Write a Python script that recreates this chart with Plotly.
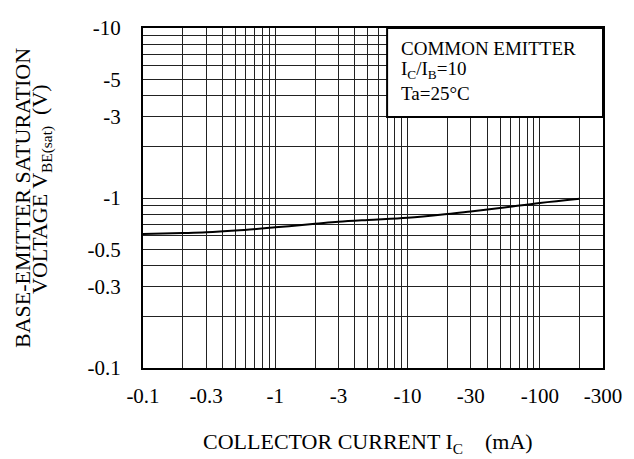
import plotly.graph_objects as go

# Data (absolute values; axis labels show negative signs)
ic_ma = [0.1, 0.2, 0.3, 0.5, 1, 2, 3, 5, 10, 20, 30, 50, 100, 200]
vbe_sat = [0.615, 0.622, 0.628, 0.643, 0.672, 0.705, 0.725, 0.743, 0.765, 0.805, 0.834, 0.873, 0.935, 0.99]

x_tickvals = [0.1, 0.3, 1, 3, 10, 30, 100, 300]
x_ticktext = ["-0.1", "-0.3", "-1", "-3", "-10", "-30", "-100", "-300"]
y_tickvals = [0.1, 0.3, 0.5, 1, 3, 5, 10]
y_ticktext = ["-0.1", "-0.3", "-0.5", "-1", "-3", "-5", "-10"]

x_grid = [m * 10 ** e for e in (-1, 0, 1, 2) for m in range(1, 10)] + [300]
y_grid = [m * 10 ** e for e in (-1, 0) for m in range(1, 10)] + [10]

W, H = 634, 459
L, R, T, B = 143, 31, 28, 91
PW, PH = W - L - R, H - T - B


def px(xp):
    return (xp - L) / PW


def py(yp):
    return (H - B - yp) / PH


FONT = "Liberation Serif"

fig = go.Figure()
fig.add_trace(go.Scatter(x=ic_ma, y=vbe_sat, mode="lines",
                         line=dict(color="black", width=2, shape="spline"),
                         showlegend=False, hoverinfo="skip"))

grid_style = dict(showgrid=True, gridcolor="#222", gridwidth=1)

fig.update_layout(
    width=W, height=H,
    margin=dict(l=L, r=R, t=T, b=B),
    paper_bgcolor="white", plot_bgcolor="white",
    font=dict(family=FONT, size=21, color="black"),
    xaxis=dict(type="log", range=[-1, 2.4771], tickvals=x_tickvals, ticktext=x_ticktext,
               showgrid=False, showline=True, mirror=True, linecolor="black", linewidth=2,
               ticks="", ticklabelstandoff=8, zeroline=False,
               minor=dict(tickvals=x_grid, **grid_style)),
    yaxis=dict(type="log", range=[-1, 1], tickvals=y_tickvals, ticktext=y_ticktext,
               showgrid=False, showline=True, mirror=True, linecolor="black", linewidth=2,
               ticks="", ticklabelstandoff=16, zeroline=False,
               minor=dict(tickvals=y_grid, **grid_style)),
)

# Condition box (white, covering the grid)
fig.add_shape(type="rect", xref="x", yref="y", x0=7, x1=300, y0=3, y1=10,
              fillcolor="white", line=dict(color="black", width=2), layer="above")

box_lines = ["COMMON EMITTER", "I<sub>C</sub>/I<sub>B</sub>=10", "Ta=25°C"]
box_y = [48, 70, 93]
for txt, yy in zip(box_lines, box_y):
    fig.add_annotation(text=txt, xref="paper", yref="paper", x=px(399), y=py(yy),
                       xanchor="left", yanchor="middle", showarrow=False,
                       font=dict(family=FONT, size=19, color="black"))

# Axis titles
fig.add_annotation(text="COLLECTOR CURRENT I<sub>C</sub>    (mA)", xref="paper", yref="paper",
                   x=px(368), y=py(443), xanchor="center", yanchor="middle", showarrow=False,
                   font=dict(family=FONT, size=22, color="black"))
fig.add_annotation(text="BASE-EMITTER SATURATION", xref="paper", yref="paper",
                   x=px(22), y=py(198), xanchor="center", yanchor="middle", showarrow=False,
                   textangle=-90, font=dict(family=FONT, size=22, color="black"))
fig.add_annotation(text="VOLTAGE V<sub>BE(sat)</sub>  (V)", xref="paper", yref="paper",
                   x=px(41), y=py(189), xanchor="center", yanchor="middle", showarrow=False,
                   textangle=-90, font=dict(family=FONT, size=22, color="black"))

fig.write_html("out.html", config={"displayModeBar": False},
               post_script="document.body.style.margin='0';document.body.style.overflow='hidden';")
